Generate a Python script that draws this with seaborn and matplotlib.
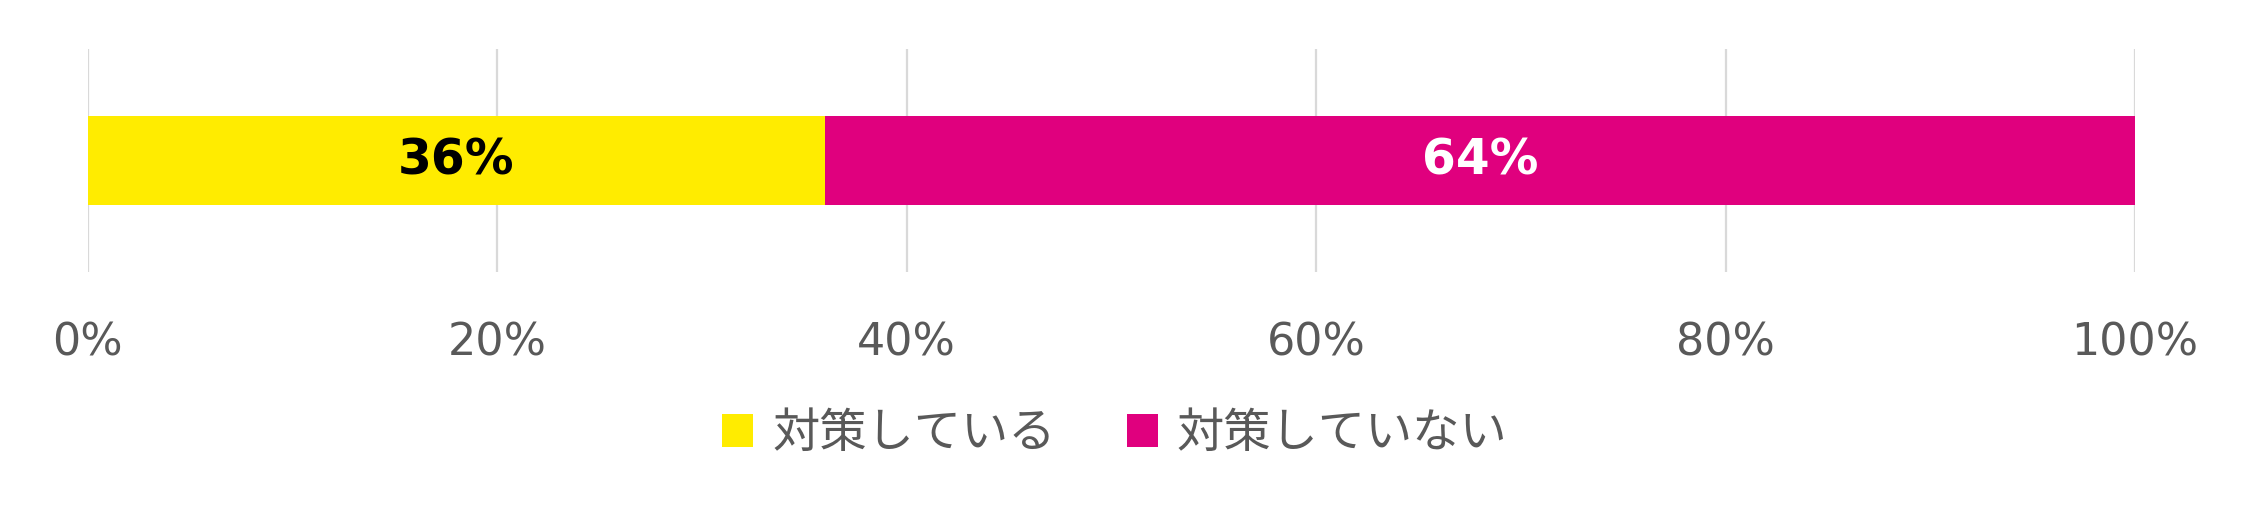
import numpy as np
import pandas as pd
import matplotlib
matplotlib.use('Agg')
import matplotlib.pyplot as plt
import seaborn as sns
from matplotlib.patches import Patch

# data
categories = ['対策している', '対策していない']
values = [36, 64]
colors = ['#FFEC00', '#E0007E']
label_colors = ['black', 'white']
ticks = [0, 20, 40, 60, 80, 100]
tick_labels = ['0%', '20%', '40%', '60%', '80%', '100%']

sns.set_theme(style='white')
plt.rcParams['font.family'] = ['Noto Sans CJK JP', 'DejaVu Sans']

fig = plt.figure(figsize=(22.52, 5.30), dpi=100)
ax = fig.add_axes([0.0389, 0.487, 0.9092, 0.4205])

# stacked bar: draw cumulative totals back to front
cum = np.cumsum(values)
row = ['all']
for i in reversed(range(len(values))):
    df = pd.DataFrame({'group': row, 'value': [cum[i]]})
    sns.barplot(data=df, x='value', y='group', orient='h', color=colors[i],
                width=0.4, saturation=1, linewidth=0, ax=ax, zorder=2)

# segment labels
starts = cum - np.array(values)
for i, v in enumerate(values):
    ax.text(starts[i] + v / 2, 0, f'{v}%', ha='center', va='center',
            fontsize=35, fontweight='bold', color=label_colors[i],
            family=['DejaVu Sans'], zorder=3)

ax.set_xlim(0, 100)
ax.set_ylim(0.5, -0.5)
ax.set_xticks(ticks)
ax.set_xticklabels(tick_labels, fontsize=32, color='#595959', family=['DejaVu Sans'])
ax.tick_params(axis='x', length=0, pad=36)
ax.set_yticks([])
ax.set_xlabel('')
ax.set_ylabel('')
ax.xaxis.grid(True, color='#D9D9D9', linewidth=1.6, zorder=0)
ax.set_axisbelow(True)
for s in ax.spines.values():
    s.set_visible(False)

handles = [Patch(facecolor=c, edgecolor='none', label=l) for c, l in zip(colors, categories)]
leg = fig.legend(handles=handles, loc='center', bbox_to_anchor=(0.495, 0.181),
                 ncol=2, frameon=False, fontsize=34, handlelength=0.66,
                 handleheight=0.7, handletextpad=0.4, columnspacing=1.5)
for t in leg.get_texts():
    t.set_color('#595959')

fig.savefig('out.png', dpi=100)
